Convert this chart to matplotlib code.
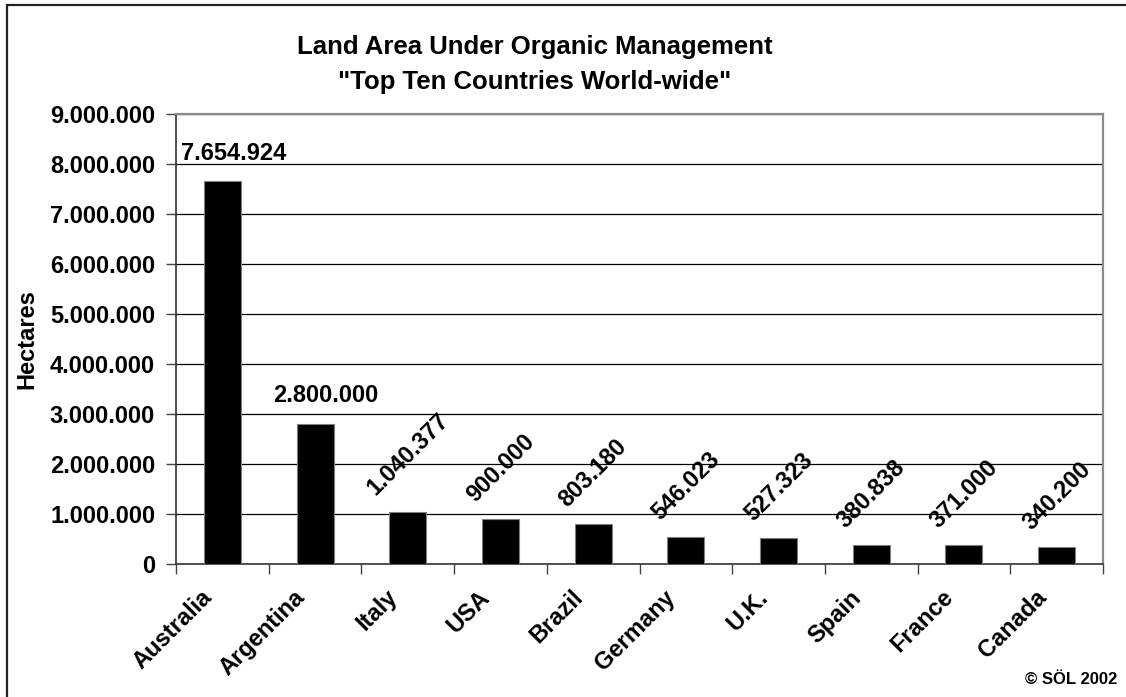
import matplotlib.pyplot as plt
from matplotlib.patches import Rectangle
from matplotlib.ticker import FuncFormatter, MultipleLocator

# top ten countries by organically managed land area (hectares)
countries = ['Australia', 'Argentina', 'Italy', 'USA', 'Brazil',
             'Germany', 'U.K.', 'Spain', 'France', 'Canada']
hectares = [7654924, 2800000, 1040377, 900000, 803180,
            546023, 527323, 380838, 371000, 340200]
label_texts = ['7.654.924', '2.800.000', '1.040.377', '900.000', '803.180',
               '546.023', '527.323', '380.838', '371.000', '340.200']
flat_labels = 2  # first two value labels are written horizontally

plt.rcParams['font.family'] = ['Liberation Sans', 'DejaVu Sans']
plt.rcParams['font.weight'] = 'bold'

W, H = 1126, 697
fig = plt.figure(figsize=(W / 100, H / 100), dpi=100)
fig.patch.set_facecolor('white')

# outer frame (right and bottom edges run off the page)
fig.add_artist(Rectangle((7 / W, -0.05), 1.2, 1 - 5 / H + 0.05,
                         transform=fig.transFigure, fill=False,
                         edgecolor='#222222', linewidth=1.6))

ax = fig.add_axes([176 / W, 1 - 564 / H, (1103 - 176) / W, (564 - 114) / H])

x = list(range(len(countries)))
ax.bar(x, hectares, width=0.4, color='black', edgecolor='#7f7f7f',
       linewidth=0.8, zorder=3)

ax.set_xlim(-0.5, len(countries) - 0.5)
ax.set_ylim(0, 9000000)
ax.yaxis.set_major_locator(MultipleLocator(1000000))
ax.yaxis.set_major_formatter(
    FuncFormatter(lambda v, p: f'{int(v):,}'.replace(',', '.')))
ax.grid(axis='y', color='black', linewidth=0.9, zorder=1)

# category separators as ticks; names written separately below
ax.set_xticks([i + 0.5 for i in x[:-1]] + [-0.5, len(countries) - 0.5])
ax.set_xticklabels([])
for i, name in enumerate(countries):
    ax.annotate(name, (i, 0), xycoords=('data', 'axes fraction'),
                xytext=(-10, -21.5), textcoords='offset points',
                rotation=45, ha='right', va='center',
                rotation_mode='anchor', fontsize=17, fontweight='bold')

ax.tick_params(axis='x', direction='out', length=7, width=1,
               color='#444444')
ax.tick_params(axis='y', direction='out', length=7, width=1,
               color='#444444', labelsize=17, pad=8)
for lab in ax.get_yticklabels():
    lab.set_fontweight('bold')

for side in ['left', 'bottom']:
    ax.spines[side].set_color('#333333')
    ax.spines[side].set_linewidth(1.2)
for side in ['top', 'right']:
    ax.spines[side].set_color('#8a8a8a')
    ax.spines[side].set_linewidth(1.6)

ax.set_ylabel('Hectares', fontsize=17, fontweight='bold')
ax.yaxis.set_label_coords(-(176 - 38) / (1103 - 176), 0.5)

# value labels above the bars
for i, (v, t) in enumerate(zip(hectares, label_texts)):
    if i < flat_labels:
        ax.annotate(t, (i, v), xytext=(8, 12), textcoords='offset points',
                    ha='center', va='bottom', fontsize=17,
                    fontweight='bold')
    else:
        ax.annotate(t, (i, v), xytext=(0, 9), textcoords='offset points',
                    ha='center', va='bottom', rotation=45, fontsize=17,
                    fontweight='bold')

fig.text(535 / W, 1 - 47 / H, 'Land Area Under Organic Management',
         ha='center', va='center', fontsize=18.5, fontweight='bold')
fig.text(535 / W, 1 - 82 / H, '"Top Ten Countries World-wide"',
         ha='center', va='center', fontsize=18.5, fontweight='bold')

fig.text(1117 / W, 1 - 679 / H, '© SÖL 2002', ha='right', va='center',
         fontsize=12, fontweight='bold')

fig.savefig('out.png', dpi=100)
